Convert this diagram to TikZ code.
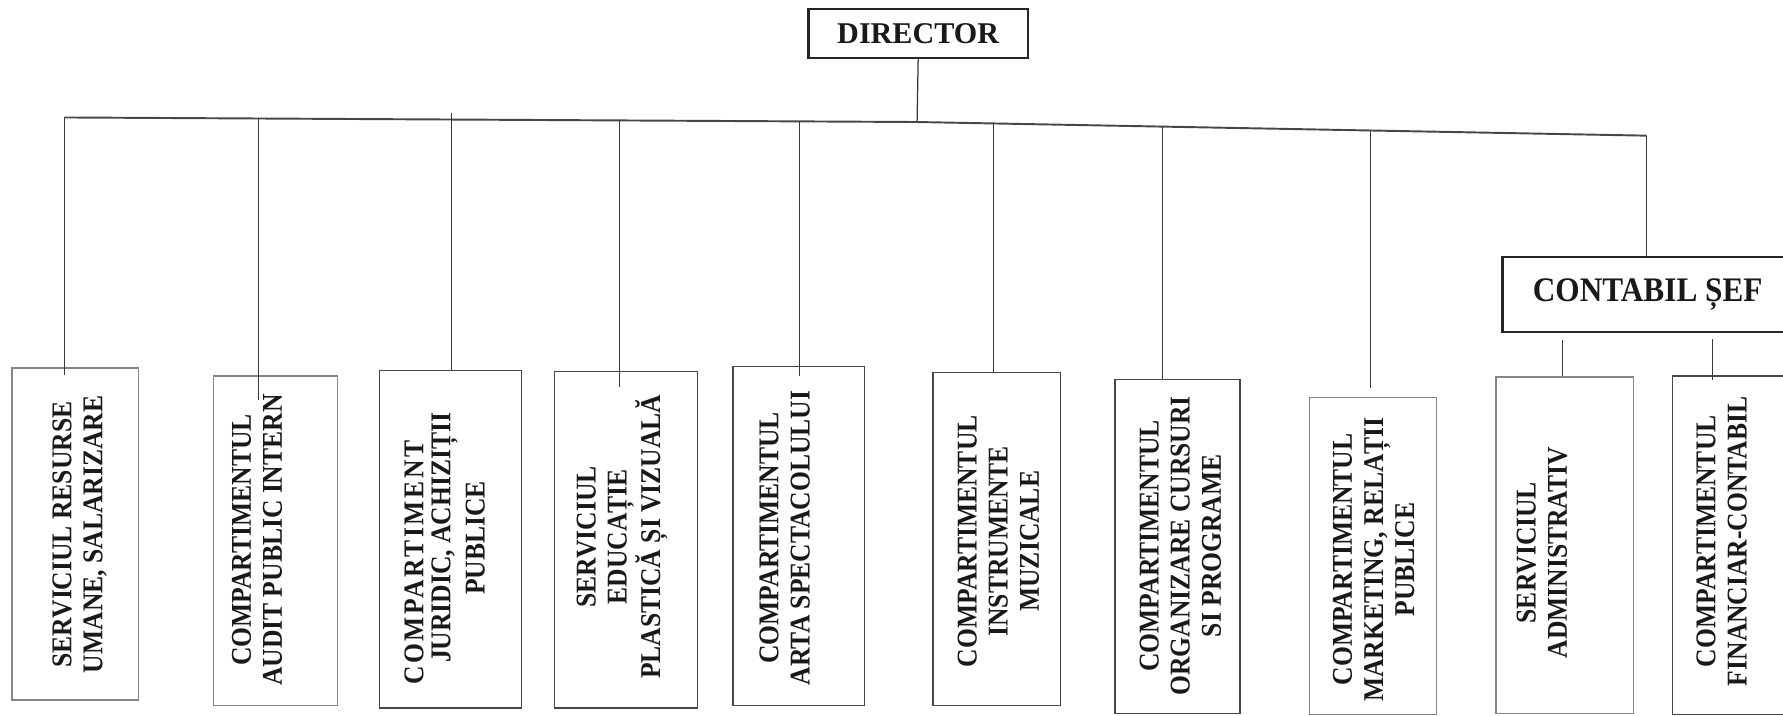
\documentclass[tikz,border=0pt]{standalone}
\usepackage{fontspec}
\setmainfont{Liberation Serif}
\begin{document}
\begin{tikzpicture}[x=1pt,y=-1pt,
  ubox/.style={draw=black!72, line width=1.1pt, rectangle, inner sep=0pt, anchor=north west},
  uboxlight/.style={ubox, draw=black!48},
  utext/.style={rotate=90, yscale=1.12, align=center, inner sep=0pt, text=black!90,
                font=\fontsize{22.5}{24.4}\selectfont\bfseries},
  conn/.style={draw=black!78, line width=1.1pt},
  bus/.style={draw=black!72, line width=1.7pt},
  headbox/.style={draw=black!85, line width=1.9pt, rectangle, inner sep=0pt, anchor=north west},
  headtext/.style={inner sep=0pt, text=black!90, font=\fontsize{26.5}{30}\selectfont\bfseries}]
\useasboundingbox (0,0) rectangle (1568,628.8);
\clip (0,0) rectangle (1568,628.8);

% top boxes
\node[headbox, minimum width=193pt, minimum height=43pt] (dir) at (710,7) {};
\node[headtext] (dirt) at (dir.center) {DIRECTOR};
\node[headbox, line width=2.2pt, minimum width=260pt, minimum height=66pt] (cs) at (1320,225) {};
\node[headtext, yscale=1.1, font=\fontsize{27.5}{30}\selectfont\bfseries] (cst) at (1449,259) {CONTABIL ȘEF};

% department boxes
\node[uboxlight, minimum width=111pt, minimum height=292pt] (b1) at (10,323) {};
\node[uboxlight, minimum width=109pt, minimum height=290pt] (b2) at (187,330) {};
\node[ubox, minimum width=125pt, minimum height=297pt] (b3) at (333,325) {};
\node[ubox, minimum width=126pt, minimum height=296pt] (b4) at (487,326) {};
\node[ubox, minimum width=116pt, minimum height=298pt] (b5) at (644,322) {};
\node[ubox, minimum width=112pt, minimum height=293pt] (b6) at (820,327) {};
\node[ubox, minimum width=110pt, minimum height=294pt] (b7) at (980,333) {};
\node[uboxlight, minimum width=112pt, minimum height=279pt] (b8) at (1151,349) {};
\node[uboxlight, minimum width=121pt, minimum height=296pt] (b9) at (1315,331) {};
\node[ubox, minimum width=140pt, minimum height=298pt] (b10) at (1470,330) {};

% texts
\node[utext] (t1) at (70,470) {SERVICIUL RESURSE\\UMANE, SALARIZARE};
\node[utext] (t2) at (226,475) {COMPARTIMENTUL\\AUDIT PUBLIC INTERN};
\node[utext, font=\fontsize{22.5}{24.4}\selectfont\bfseries\addfontfeature{LetterSpace=10}] (t3a) at (364,495) {COMPARTIMENT};
\node[utext] (t3b) at (391,473) {JURIDIC, ACHIZIȚII};
\node[utext] (t3c) at (418,473) {PUBLICE};
\node[utext] (t4) at (547,472) {SERVICIUL\\EDUCAȚIE\\PLASTICĂ ȘI VIZUALĂ};
\node[utext] (t5) at (690,473) {COMPARTIMENTUL\\ARTA SPECTACOLULUI};
\node[utext] (t6) at (878,476) {COMPARTIMENTUL\\INSTRUMENTE\\MUZICALE};
\node[utext] (t7) at (1038,480) {COMPARTIMENTUL\\ORGANIZARE CURSURI\\SI PROGRAME};
\node[utext] (t8) at (1208,492) {COMPARTIMENTUL\\MARKETING, RELAȚII\\PUBLICE};
\node[utext] (t9) at (1356,486) {SERVICIUL\\ADMINISTRATIV};
\node[utext] (t10) at (1514,476) {COMPARTIMENTUL\\FINANCIAR-CONTABIL};

% bus coordinates
\coordinate (j1) at (57,103.3);
\coordinate (j2) at (227,104.2);
\coordinate (j3) at (397,99);
\coordinate (j4) at (545,105.9);
\coordinate (j5) at (703,106.7);
\coordinate (jd) at (806.5,107.3);
\coordinate (j6) at (874,108.6);
\coordinate (j7) at (1022,111.3);
\coordinate (j8) at (1205,114.8);
\coordinate (jc) at (1448,119.3);
% free ends
\coordinate (e1) at (57,330);
\coordinate (e2) at (227,352);
\coordinate (e4) at (545,340);
\coordinate (e5) at (703,331);
\coordinate (e8) at (1205,341);
\coordinate (s9) at (1374,299);
\coordinate (s10) at (1506,298);
\coordinate (e10) at (1506,334);

% connectors
\draw[conn] (dir.south) -- (jd);
\draw[bus] (j1) -- (jd) -- (jc);
\draw[conn] (j1) -- (e1);
\draw[conn] (j2) -- (e2);
\draw[conn] (j3) -- (j3 |- b3.north);
\draw[conn] (j4) -- (e4);
\draw[conn] (j5) -- (e5);
\draw[conn] (j6) -- (j6 |- b6.north);
\draw[conn] (j7) -- (j7 |- b7.north);
\draw[conn] (j8) -- (e8);
\draw[conn] (jc) -- (jc |- cs.north);
\draw[conn] (s9) -- (s9 |- b9.north);
\draw[conn] (s10) -- (e10);
\end{tikzpicture}
\end{document}
